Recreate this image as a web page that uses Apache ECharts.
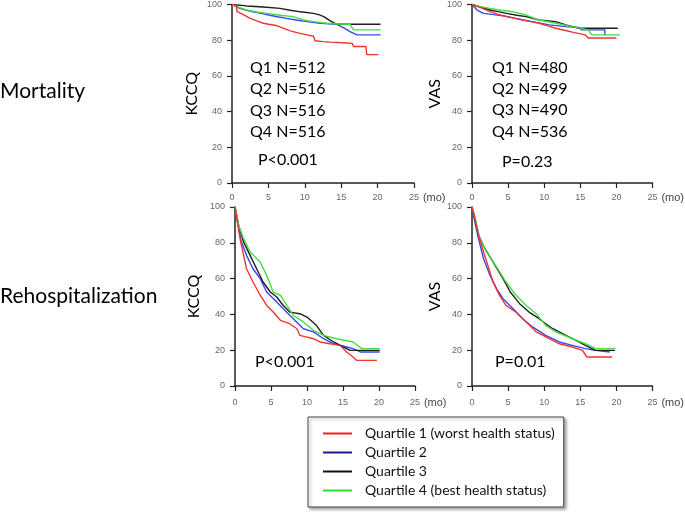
<!DOCTYPE html>
<html><head><meta charset="utf-8">
<script src="https://cdn.jsdelivr.net/npm/echarts@6/dist/echarts.min.js"></script>
<style>html,body{margin:0;padding:0;background:#fff}#c{width:685px;height:512px}</style>
</head><body><div id="c"></div>
<script>
// ---- tick definitions ----
const xTickMin = 0, xTickMax = 25, xTickStep = 5;
const yTickMin = 0, yTickMax = 100, yTickStep = 20;

// ---- legend / series names ----
const quartileNames = ['Quartile 1 (worst health status)', 'Quartile 2', 'Quartile 3', 'Quartile 4 (best health status)'];
const rowLabels = ['Mortality', 'Rehospitalization'];
const nKccq = [512, 516, 516, 516];
const nVas = [480, 499, 490, 536];
const pMortKccq = 'P<0.001', pMortVas = 'P=0.23', pRehKccq = 'P<0.001', pRehVas = 'P=0.01';

// ---- Mortality, KCCQ (time in months, % event-free) ----
const mortKccqQ1 = [[0,100],[0.6,99.5],[0.7,96],[1.5,94.5],[2.5,92.2],[3.4,90.8],[4.3,89.5],[5.2,88.8],[6.1,88.2],[7,86.8],[8,85.2],[9.2,84],[10.3,83],[11.2,82.2],[11.4,79.7],[12.5,79.2],[13.5,78.9],[15.8,78.4],[16.5,78.2],[16.7,76.5],[18.4,76.5],[18.5,71.9],[20.1,71.9]];
const mortKccqQ2 = [[0,100],[1.1,97.8],[2,96.8],[2.9,95.9],[4,95],[5.2,94],[6.4,93],[7.5,92.2],[9,91.2],[10.3,90.4],[12.1,89.5],[14.4,88.9],[15.3,87],[16.2,84.8],[17.2,83],[20.4,83]];
const mortKccqQ3 = [[0,100],[2,99.2],[4.3,98.6],[6.6,97.8],[8,96.8],[9.4,95.9],[11.2,95],[12,94.2],[12.6,93.2],[13.5,90.8],[14.4,88.9],[20.4,88.9]];
const mortKccqQ4 = [[0,100],[1,98.4],[2,96.9],[3.5,95.8],[4.8,95],[6.6,94],[8.4,93.2],[9.8,91.3],[11.2,90.4],[13,89.5],[14.4,89.1],[16.2,88.9],[16.7,85.8],[20.4,85.8]];

// ---- Mortality, VAS ----
const mortVasQ1 = [[0,100],[1.2,98.2],[2.5,96],[3.6,94.5],[4.8,93.2],[5.9,92.2],[7,91.3],[8.1,90.4],[9.3,89.5],[10.5,88],[11.6,86.7],[12.8,85.6],[13.9,84.5],[15.7,83],[16.1,81.2],[20,81.2]];
const mortVasQ2 = [[0,100],[0.7,96.9],[1.6,95],[3,94.3],[4.3,93.7],[6.1,92.2],[7.3,91.2],[8.4,90.4],[10.7,88.6],[13,87.6],[14.8,87.1],[15.2,85.8],[18.4,85.8],[18.4,83],[18.5,83]];
const mortVasQ3 = [[0,100],[1.2,98.5],[2.5,96.9],[3.6,96],[4.8,95],[6.2,94],[7.5,93.2],[9.3,91.3],[11.6,90.4],[13,88.6],[14.8,86.7],[20.2,86.7]];
const mortVasQ4 = [[0,100],[1.2,98.8],[2.5,97.8],[4,96.8],[5.7,95.9],[7.5,94.1],[9.3,91.3],[11.6,89.5],[13.9,87.6],[16.1,85.8],[16.6,83],[20.5,83]];

// ---- Rehospitalization, KCCQ ----
const rehKccqQ1 = [[0,100],[0.2,95.3],[0.7,82.3],[1.2,73],[1.6,65.5],[2.5,58.1],[3.5,50.7],[4.4,45],[5.3,41.3],[6.3,36.7],[7.6,34.8],[8.6,32],[9,28.3],[10.9,26.4],[11.8,24.6],[13.2,23.6],[14.6,22.7],[15.5,19],[16.4,16.2],[16.9,14.3],[19.7,14.3]];
const rehKccqQ2 = [[0,100],[0.5,87.9],[0.9,80.4],[1.6,73],[2.5,65.5],[3.5,60],[4.4,52.5],[5.8,46.9],[6.7,43.2],[8.1,37.6],[9.5,32],[10.9,30.2],[12.3,26.4],[13.7,23.6],[15.5,21.8],[16.4,20.9],[17.4,19],[20.1,19]];
const rehKccqQ3 = [[0,100],[0.5,89.8],[1.2,80.4],[2.1,73],[3,65.5],[3.9,58.1],[4.9,52.5],[5.8,49.7],[6.7,45],[7.6,41.3],[9,40.4],[10,38.5],[11.3,33.9],[12.3,28.3],[13.7,24.6],[15,21.8],[16,19.9],[20.1,19.9]];
const rehKccqQ4 = [[0,100],[0.5,89.8],[1.2,82.3],[2.1,74.9],[3.5,69.3],[4.4,61.8],[5.3,52.5],[6.3,50.7],[7.2,45],[8.1,39.5],[9.5,35.8],[10.9,31.1],[12.3,28.3],[14.1,26.4],[16.4,24.6],[17.6,20.9],[20.1,20.9]];

// ---- Rehospitalization, VAS ----
const rehVasQ1 = [[0,100],[0.4,93.5],[0.9,84.2],[1.6,74.9],[2.2,67.4],[2.9,58.1],[3.8,50.7],[4.7,45],[6.1,41.3],[7.5,35.8],[8.9,30.2],[10.7,26.4],[12.1,23.6],[13.9,21.8],[15.3,19.9],[15.9,16.2],[19.4,16.2]];
const rehVasQ2 = [[0,100],[0.4,91.6],[0.9,82.3],[1.6,71.1],[2.5,61.8],[3.4,54.4],[4.3,48.8],[5.7,43.2],[7,37.6],[8.4,33],[10.2,28.3],[12.1,24.6],[13.9,22.7],[15.7,20.9],[17.1,19.9],[19.1,19]];
const rehVasQ3 = [[0,100],[0.4,93.5],[0.9,84.2],[1.8,76.7],[2.9,69.3],[4.3,60],[5.3,52.5],[6.6,46],[7.9,41.3],[9.3,37.6],[10.2,34.8],[11.2,32],[13,28.3],[14.8,24.6],[15.7,22.7],[17.1,19.9],[19.8,19.9]];
const rehVasQ4 = [[0,100],[0.4,94.4],[1.1,82.3],[2,74.9],[3.4,66.5],[4.7,58.1],[6.1,50.7],[7.5,45],[8.9,40.4],[10.2,33.9],[11.6,30.2],[13.9,26.4],[15.7,23.6],[17.1,20.9],[19.8,20.9]];

const lineColors = ['#ee3535', '#3a46ee', '#1e1e1e', '#45dd45'];
const legendColors = ['#ff1a1a', '#1c1c8c', '#111111', '#2ee02e'];

const panels = [
  {data:[mortKccqQ1,mortKccqQ2,mortKccqQ3,mortKccqQ4], yName:'KCCQ', grid:{left:232, top:3, width:182, height:180}, nameGap:32, labelMargin:10, nameDy:9},
  {data:[mortVasQ1,mortVasQ2,mortVasQ3,mortVasQ4], yName:'VAS', grid:{left:472, top:3, width:183, height:180}, nameGap:14, labelMargin:10, nameDy:9},
  {data:[rehKccqQ1,rehKccqQ2,rehKccqQ3,rehKccqQ4], yName:'KCCQ', grid:{left:235, top:207, width:180, height:179}, nameGap:33, labelMargin:12, nameDy:11},
  {data:[rehVasQ1,rehVasQ2,rehVasQ3,rehVasQ4], yName:'VAS', grid:{left:472, top:207, width:181, height:179}, nameGap:14, labelMargin:12, nameDy:11}
];

const axisCol = '#222';
const grids = [], xAxes = [], yAxes = [], series = [];
panels.forEach((p, i) => {
  grids.push(p.grid);
  xAxes.push({
    gridIndex:i, type:'value', min:xTickMin, max:xTickMax, interval:xTickStep,
    axisLine:{onZero:false, lineStyle:{color:axisCol, width:1.5}},
    axisTick:{length:5, lineStyle:{color:axisCol, width:1.2}},
    axisLabel:{color:'#666', fontSize:9, margin:p.labelMargin, fontFamily:'Liberation Sans'},
    splitLine:{show:false},
    name:'(mo)', nameLocation:'end', nameGap:4,
    nameTextStyle:{color:'#444', fontSize:11, fontFamily:'Liberation Sans', verticalAlign:'top', padding:[p.nameDy,0,0,0]}
  });
  yAxes.push({
    gridIndex:i, type:'value', min:yTickMin, max:yTickMax, interval:yTickStep,
    axisLine:{show:true, lineStyle:{color:axisCol, width:1.5}},
    axisTick:{show:true, length:5, lineStyle:{color:axisCol, width:1.2}},
    axisLabel:{color:'#666', fontSize:9, margin:10, fontFamily:'Liberation Sans'},
    splitLine:{show:false},
    name:p.yName, nameLocation:'middle', nameGap:p.nameGap,
    nameTextStyle:{color:'#000', fontSize:16, fontFamily:'Lato'}
  });
  p.data.forEach((d, q) => {
    series.push({
      type:'line', name:quartileNames[q], xAxisIndex:i, yAxisIndex:i, data:d,
      showSymbol:false, symbol:'none', animation:false,
      lineStyle:{color:lineColors[q], width:1.4}, itemStyle:{color:lineColors[q]},
      z:2 + (q===0?4:q)
    });
  });
});

const txtStyle = {fontFamily:'Lato', fontSize:16, fill:'#000'};
const graphics = [];
function addText(x, y, t, extra) {
  graphics.push({type:'text', left:x, top:y, style:Object.assign({text:t}, txtStyle, extra||{})});
}
addText(0, 81, rowLabels[0], {fontSize:21});
addText(0, 286, rowLabels[1], {fontSize:21});
const qy = [60, 81, 102.5, 124];
nKccq.forEach((n, k) => addText(250, qy[k], 'Q' + (k+1) + ' N=' + n));
nVas.forEach((n, k) => addText(492, qy[k] - 0.5, 'Q' + (k+1) + ' N=' + n));
addText(258, 152, pMortKccq);
addText(502, 154, pMortVas);
addText(255, 354, pRehKccq);
addText(495, 354, pRehVas);

const chart = echarts.init(document.getElementById('c'), null, {renderer:'canvas'});
chart.setOption({
  animation:false,
  backgroundColor:'#fff',
  grid:grids, xAxis:xAxes, yAxis:yAxes, series:series,
  legend:{
    orient:'vertical', left:308, top:417,
    data:quartileNames.map((n, q) => ({name:n, icon:'rect', itemStyle:{color:legendColors[q]}})),
    itemWidth:29, itemHeight:2, itemGap:4,
    selectedMode:false,
    textStyle:{fontFamily:'Lato', fontSize:14, color:'#111', lineHeight:15, padding:[0,0,0,8]},
    padding:[9, 9, 9, 15],
    backgroundColor:'#fff', borderColor:'#444', borderWidth:1,
    shadowBlur:3, shadowColor:'rgba(0,0,0,0.35)', shadowOffsetX:2, shadowOffsetY:2
  },
  graphic:graphics
});
</script></body></html>
